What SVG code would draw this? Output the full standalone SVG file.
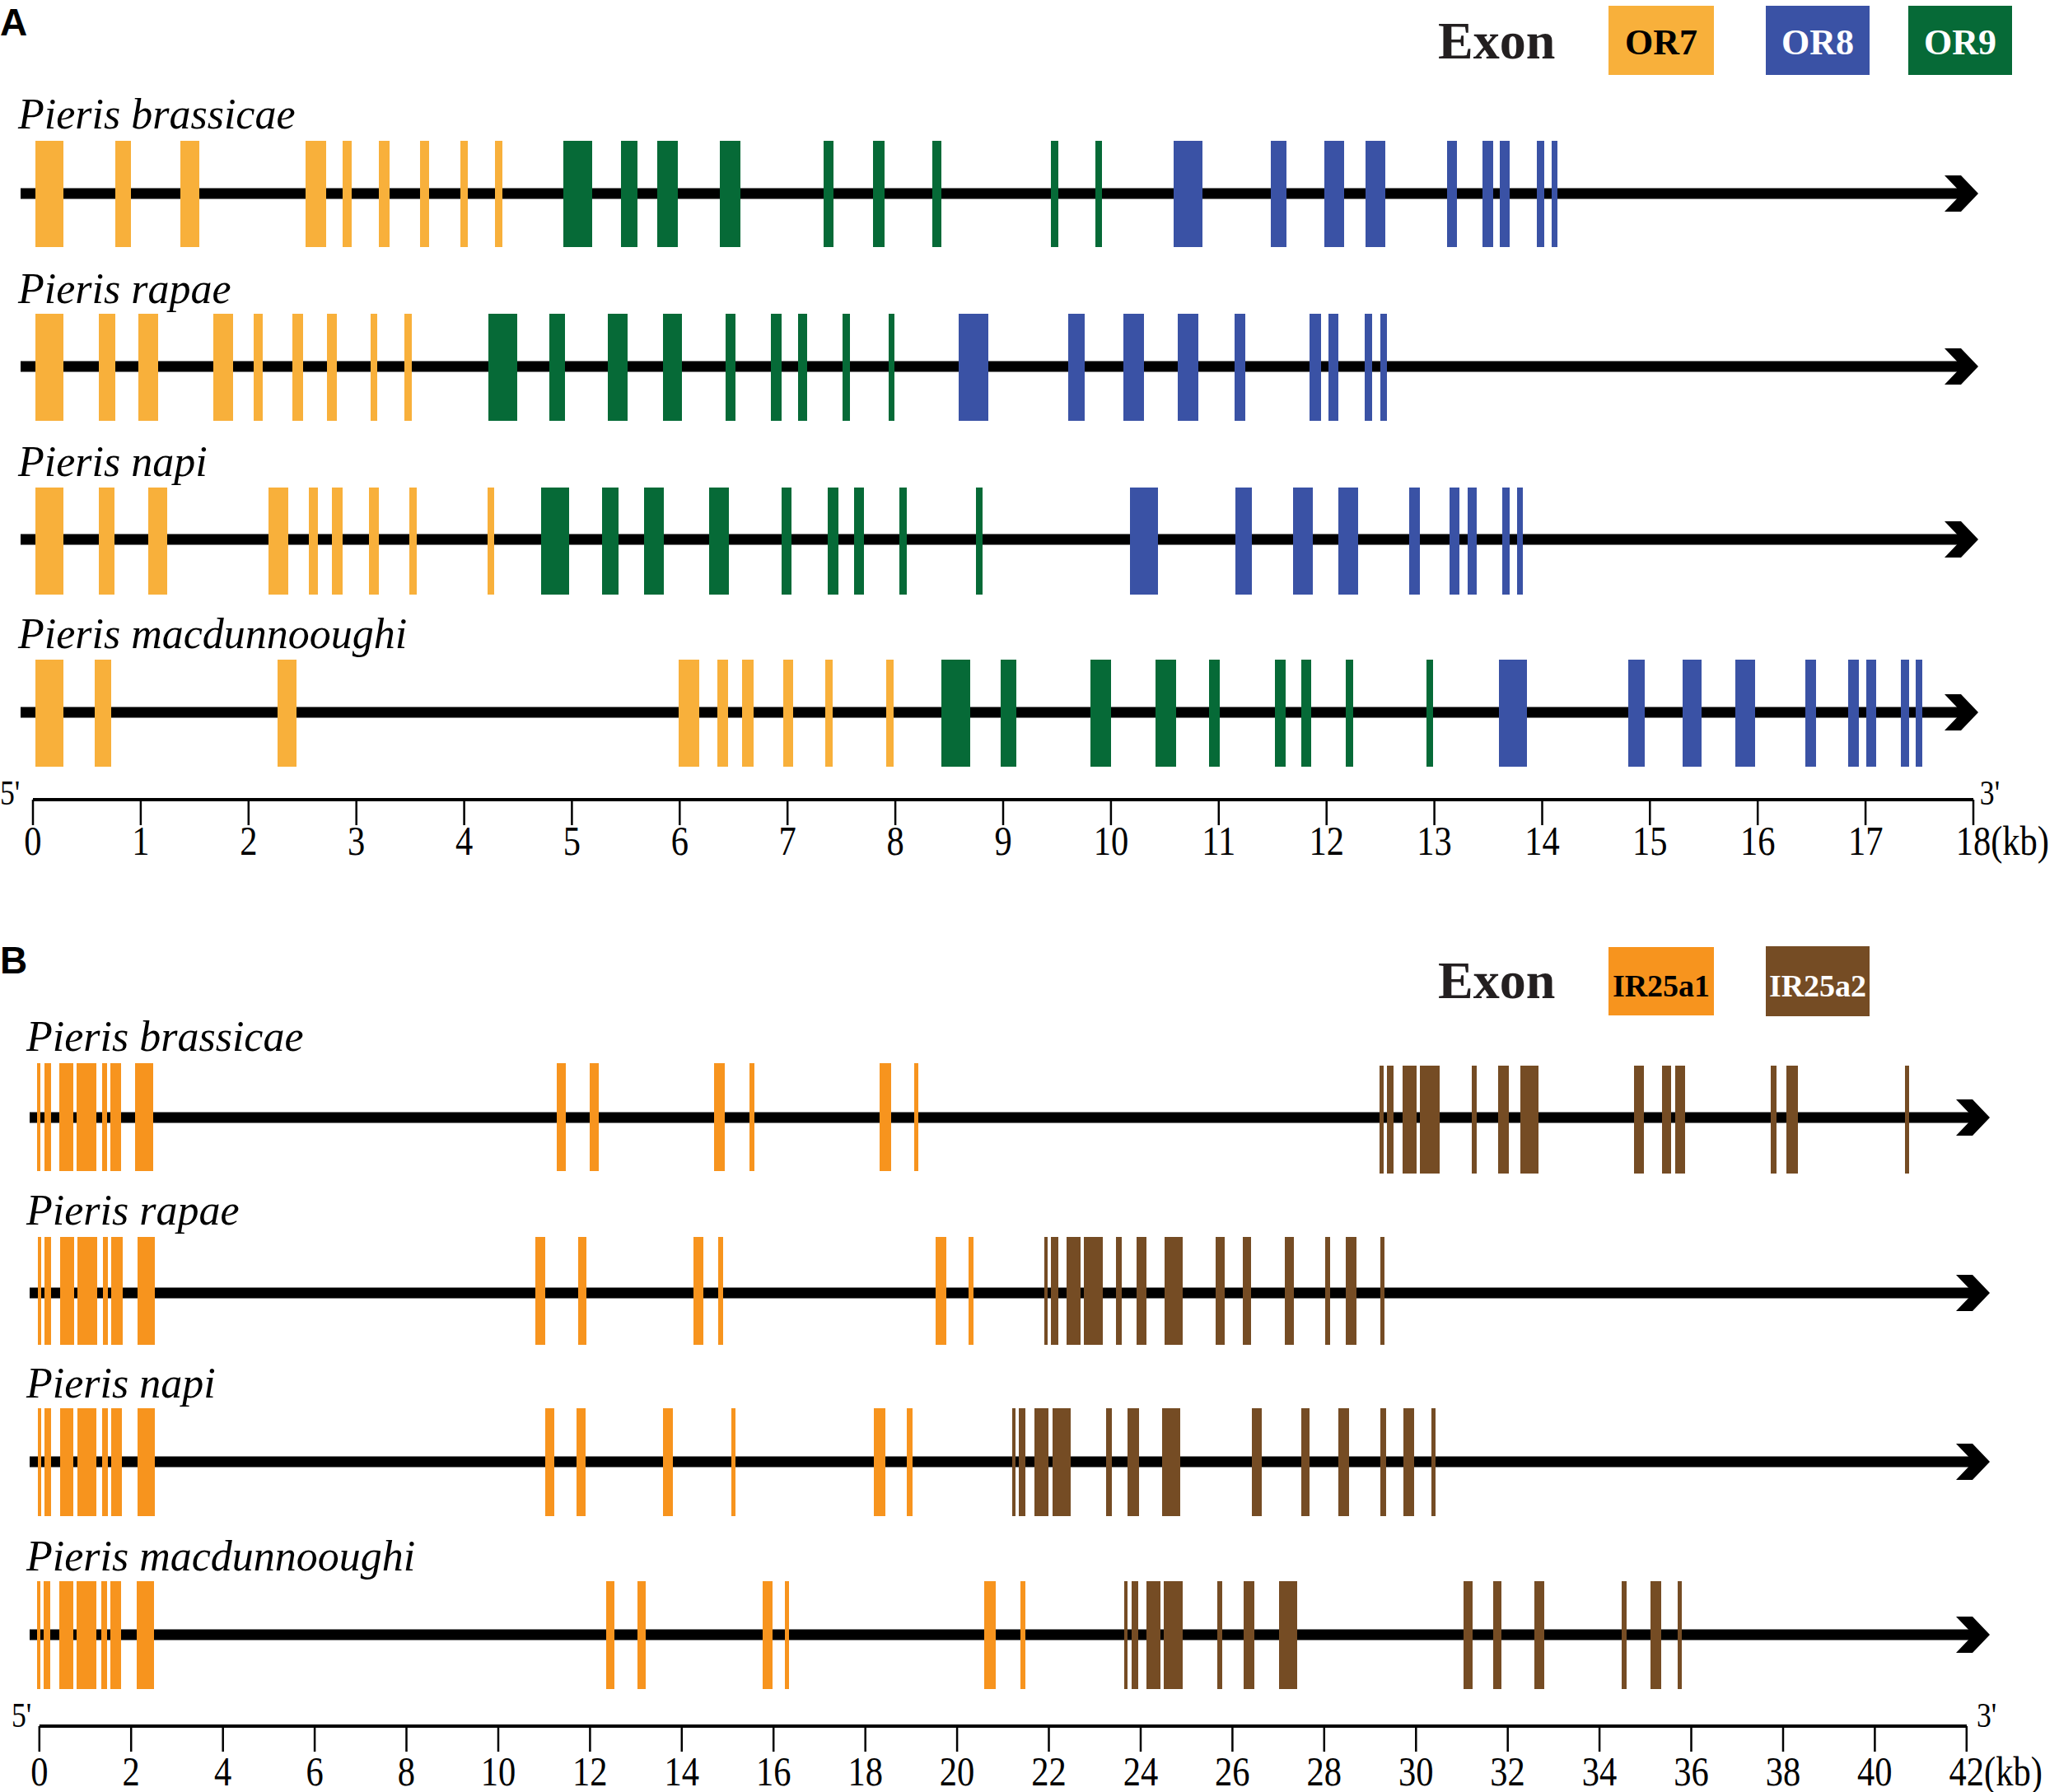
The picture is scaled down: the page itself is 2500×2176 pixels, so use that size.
<svg xmlns="http://www.w3.org/2000/svg" width="2500" height="2176" viewBox="0 0 2500 2176">
<defs>
<style>
.or7{fill:#F8B03B}.or8{fill:#3A52A5}.or9{fill:#066A37}.ir1{fill:#F7941E}.ir2{fill:#754C24}
.bb{stroke:#000;stroke-width:13;fill:none}
.ax{stroke:#000;stroke-width:4;fill:none}
.tk{stroke:#000;stroke-width:2.5;fill:none}
.sp{font-family:"Liberation Serif","Times New Roman",serif;font-style:italic;font-size:52px;fill:#000}
.num{font-family:"Liberation Serif","Times New Roman",serif;font-size:50px;fill:#000;text-anchor:middle}
.end{font-family:"Liberation Serif","Times New Roman",serif;font-size:50px;fill:#000}
.pr{font-family:"Liberation Serif","Times New Roman",serif;font-size:42px;fill:#000}
.pl{font-family:"Liberation Sans",Arial,sans-serif;font-weight:bold;font-size:46px;fill:#000}
.ex{font-family:"Liberation Serif","Times New Roman",serif;font-weight:bold;font-size:64px;fill:#231F20}
.lg{font-family:"Liberation Serif","Times New Roman",serif;font-weight:bold;font-size:44px;text-anchor:middle}
.lg2{font-family:"Liberation Serif","Times New Roman",serif;font-weight:bold;font-size:38px;text-anchor:middle}
</style>
<marker id="chev" markerUnits="userSpaceOnUse" viewBox="0 -22 41 44" markerWidth="41" markerHeight="44" refX="21" refY="0" orient="auto">
<path d="M0,-22 L20,-22 L41,0 L20,22 L0,22 L21,0 Z" fill="#000"/>
</marker>
</defs>
<rect width="2500" height="2176" fill="#fff"/>

<!-- Panel A header -->
<text class="pl" x="0" y="43">A</text>
<g id="legendA">
<text class="ex" x="1746" y="71">Exon</text>
<rect class="or7" x="1953" y="7" width="128" height="84"/>
<text class="lg" x="2017" y="66" fill="#000">OR7</text>
<rect class="or8" x="2144" y="7" width="126" height="84"/>
<text class="lg" x="2207" y="66" fill="#fff">OR8</text>
<rect class="or9" x="2317" y="7" width="126" height="84"/>
<text class="lg" x="2380" y="66" fill="#fff">OR9</text>
</g>

<!-- species labels -->
<g id="labels">
<text class="sp" x="22" y="156">Pieris brassicae</text>
<text class="sp" x="22" y="368">Pieris rapae</text>
<text class="sp" x="22" y="578">Pieris napi</text>
<text class="sp" x="22" y="787">Pieris macdunnooughi</text>
<text class="sp" x="32" y="1276">Pieris brassicae</text>
<text class="sp" x="32" y="1487">Pieris rapae</text>
<text class="sp" x="32" y="1697">Pieris napi</text>
<text class="sp" x="32" y="1907">Pieris macdunnooughi</text>
</g>

<!-- backbones (connectors) -->
<g id="connectors">
<line class="bb" x1="25" y1="235" x2="2382" y2="235" marker-end="url(#chev)"/>
<line class="bb" x1="25" y1="445" x2="2382" y2="445" marker-end="url(#chev)"/>
<line class="bb" x1="25" y1="655" x2="2382" y2="655" marker-end="url(#chev)"/>
<line class="bb" x1="25" y1="865" x2="2382" y2="865" marker-end="url(#chev)"/>
<line class="bb" x1="36" y1="1357" x2="2396" y2="1357" marker-end="url(#chev)"/>
<line class="bb" x1="36" y1="1570" x2="2396" y2="1570" marker-end="url(#chev)"/>
<line class="bb" x1="36" y1="1775" x2="2396" y2="1775" marker-end="url(#chev)"/>
<line class="bb" x1="36" y1="1985" x2="2396" y2="1985" marker-end="url(#chev)"/>
</g>

<!-- Panel A rows -->
<g id="A-brassicae" transform="translate(0,171)">
<g class="or7"><rect x="43" width="34" height="129"/><rect x="140" width="19" height="129"/><rect x="219" width="23" height="129"/><rect x="371" width="25" height="129"/><rect x="416" width="11" height="129"/><rect x="460" width="13" height="129"/><rect x="510" width="11" height="129"/><rect x="559" width="9" height="129"/><rect x="601" width="9" height="129"/></g>
<g class="or9"><rect x="684" width="35" height="129"/><rect x="754" width="20" height="129"/><rect x="798" width="25" height="129"/><rect x="874" width="25" height="129"/><rect x="1000" width="12" height="129"/><rect x="1060" width="14" height="129"/><rect x="1132" width="11" height="129"/><rect x="1276" width="9" height="129"/><rect x="1330" width="8" height="129"/></g>
<g class="or8"><rect x="1425" width="35" height="129"/><rect x="1543" width="19" height="129"/><rect x="1608" width="24" height="129"/><rect x="1658" width="24" height="129"/><rect x="1757" width="12" height="129"/><rect x="1800" width="13" height="129"/><rect x="1821" width="12" height="129"/><rect x="1866" width="9" height="129"/><rect x="1884" width="7" height="129"/></g>
</g>
<g id="A-rapae" transform="translate(0,381)">
<g class="or7"><rect x="43" width="34" height="130"/><rect x="120" width="20" height="130"/><rect x="168" width="24" height="130"/><rect x="259" width="24" height="130"/><rect x="308" width="11" height="130"/><rect x="355" width="13" height="130"/><rect x="397" width="12" height="130"/><rect x="450" width="8" height="130"/><rect x="491" width="9" height="130"/></g>
<g class="or9"><rect x="593" width="35" height="130"/><rect x="667" width="19" height="130"/><rect x="738" width="24" height="130"/><rect x="805" width="23" height="130"/><rect x="881" width="12" height="130"/><rect x="936" width="13" height="130"/><rect x="969" width="11" height="130"/><rect x="1023" width="9" height="130"/><rect x="1079" width="7" height="130"/></g>
<g class="or8"><rect x="1164" width="36" height="130"/><rect x="1297" width="20" height="130"/><rect x="1364" width="25" height="130"/><rect x="1430" width="25" height="130"/><rect x="1499" width="13" height="130"/><rect x="1590" width="14" height="130"/><rect x="1613" width="12" height="130"/><rect x="1657" width="9" height="130"/><rect x="1676" width="8" height="130"/></g>
</g>
<g id="A-napi" transform="translate(0,592)">
<g class="or7"><rect x="43" width="34" height="130"/><rect x="120" width="19" height="130"/><rect x="180" width="23" height="130"/><rect x="326" width="24" height="130"/><rect x="375" width="11" height="130"/><rect x="403" width="13" height="130"/><rect x="448" width="12" height="130"/><rect x="497" width="9" height="130"/><rect x="592" width="8" height="130"/></g>
<g class="or9"><rect x="657" width="34" height="130"/><rect x="731" width="20" height="130"/><rect x="782" width="24" height="130"/><rect x="861" width="24" height="130"/><rect x="949" width="12" height="130"/><rect x="1005" width="13" height="130"/><rect x="1037" width="12" height="130"/><rect x="1092" width="9" height="130"/><rect x="1185" width="8" height="130"/></g>
<g class="or8"><rect x="1372" width="34" height="130"/><rect x="1500" width="20" height="130"/><rect x="1570" width="24" height="130"/><rect x="1625" width="24" height="130"/><rect x="1711" width="13" height="130"/><rect x="1760" width="12" height="130"/><rect x="1782" width="11" height="130"/><rect x="1824" width="9" height="130"/><rect x="1842" width="7" height="130"/></g>
</g>
<g id="A-macdunnooughi" transform="translate(0,801)">
<g class="or7"><rect x="43" width="34" height="130"/><rect x="115" width="20" height="130"/><rect x="337" width="23" height="130"/><rect x="824" width="25" height="130"/><rect x="871" width="13" height="130"/><rect x="901" width="14" height="130"/><rect x="951" width="12" height="130"/><rect x="1002" width="9" height="130"/><rect x="1076" width="9" height="130"/></g>
<g class="or9"><rect x="1143" width="35" height="130"/><rect x="1215" width="19" height="130"/><rect x="1324" width="25" height="130"/><rect x="1403" width="25" height="130"/><rect x="1468" width="13" height="130"/><rect x="1548" width="13" height="130"/><rect x="1580" width="12" height="130"/><rect x="1634" width="9" height="130"/><rect x="1732" width="8" height="130"/></g>
<g class="or8"><rect x="1820" width="34" height="130"/><rect x="1977" width="20" height="130"/><rect x="2043" width="23" height="130"/><rect x="2107" width="24" height="130"/><rect x="2192" width="13" height="130"/><rect x="2244" width="13" height="130"/><rect x="2266" width="12" height="130"/><rect x="2308" width="10" height="130"/><rect x="2326" width="8" height="130"/></g>
</g>

<!-- Axis A -->
<g id="axisA">
<line class="ax" x1="40" y1="971" x2="2396" y2="971"/>
<path class="tk" d="M40 971V1002M170.9 971V1002M301.8 971V1002M432.7 971V1002M563.6 971V1002M694.4 971V1002M825.3 971V1002M956.2 971V1002M1087.1 971V1002M1218 971V1002M1348.9 971V1002M1479.8 971V1002M1610.7 971V1002M1741.6 971V1002M1872.5 971V1002M2003.3 971V1002M2134.2 971V1002M2265.1 971V1002M2396 971V1002"/>
<g transform="scale(0.85,1)">
<text class="pr" x="0" y="977">5'</text>
<text class="pr" x="2828" y="977">3'</text>
<text class="num" x="47.06" y="1038">0</text><text class="num" x="201.05" y="1038">1</text><text class="num" x="355.04" y="1038">2</text><text class="num" x="509.03" y="1038">3</text><text class="num" x="663.02" y="1038">4</text><text class="num" x="817.01" y="1038">5</text><text class="num" x="971" y="1038">6</text><text class="num" x="1124.99" y="1038">7</text><text class="num" x="1278.98" y="1038">8</text><text class="num" x="1432.97" y="1038">9</text><text class="num" x="1586.96" y="1038">10</text><text class="num" x="1740.95" y="1038">11</text><text class="num" x="1894.94" y="1038">12</text><text class="num" x="2048.93" y="1038">13</text><text class="num" x="2202.92" y="1038">14</text><text class="num" x="2356.91" y="1038">15</text><text class="num" x="2510.9" y="1038">16</text><text class="num" x="2664.89" y="1038">17</text>
<text class="end" x="2793.8" y="1038">18(kb)</text>
</g>
</g>

<!-- Panel B header -->
<text class="pl" x="0" y="1182">B</text>
<g id="legendB">
<text class="ex" x="1746" y="1212">Exon</text>
<rect class="ir1" x="1953" y="1150" width="128" height="83"/>
<text class="lg2" x="2017" y="1210" fill="#000">IR25a1</text>
<rect class="ir2" x="2144" y="1149" width="126" height="85"/>
<text class="lg2" x="2207" y="1210" fill="#fff">IR25a2</text>
</g>

<!-- Panel B rows -->
<g id="B-brassicae" transform="translate(0,1291)">
<g class="ir1"><rect x="45" width="4" height="131"/><rect x="54" width="8" height="131"/><rect x="72" width="17" height="131"/><rect x="93" width="24" height="131"/><rect x="124" width="6" height="131"/><rect x="134" width="13" height="131"/><rect x="164" width="22" height="131"/><rect x="676" width="11" height="131"/><rect x="716" width="11" height="131"/><rect x="867" width="13" height="131"/><rect x="910" width="6" height="131"/><rect x="1068" width="14" height="131"/><rect x="1110" width="5" height="131"/></g>
<g class="ir2" transform="translate(0,3)"><rect x="1675" width="5" height="131"/><rect x="1684" width="8" height="131"/><rect x="1703" width="17" height="131"/><rect x="1724" width="24" height="131"/><rect x="1787" width="6" height="131"/><rect x="1819" width="13" height="131"/><rect x="1846" width="22" height="131"/><rect x="1984" width="12" height="131"/><rect x="2018" width="11" height="131"/><rect x="2034" width="12" height="131"/><rect x="2150" width="7" height="131"/><rect x="2169" width="14" height="131"/><rect x="2313" width="5" height="131"/></g>
</g>
<g id="B-rapae" transform="translate(0,1502)">
<g class="ir1"><rect x="46" width="4" height="131"/><rect x="54" width="8" height="131"/><rect x="73" width="17" height="131"/><rect x="94" width="24" height="131"/><rect x="125" width="6" height="131"/><rect x="135" width="14" height="131"/><rect x="167" width="21" height="131"/><rect x="650" width="12" height="131"/><rect x="702" width="10" height="131"/><rect x="842" width="12" height="131"/><rect x="872" width="6" height="131"/><rect x="1136" width="13" height="131"/><rect x="1176" width="6" height="131"/></g>
<g class="ir2"><rect x="1268" width="4" height="131"/><rect x="1276" width="9" height="131"/><rect x="1295" width="17" height="131"/><rect x="1316" width="23" height="131"/><rect x="1355" width="7" height="131"/><rect x="1380" width="12" height="131"/><rect x="1414" width="22" height="131"/><rect x="1476" width="11" height="131"/><rect x="1509" width="10" height="131"/><rect x="1560" width="11" height="131"/><rect x="1609" width="6" height="131"/><rect x="1634" width="13" height="131"/><rect x="1676" width="5" height="131"/></g>
</g>
<g id="B-napi" transform="translate(0,1710)">
<g class="ir1"><rect x="46" width="4" height="131"/><rect x="54" width="8" height="131"/><rect x="73" width="16" height="131"/><rect x="94" width="23" height="131"/><rect x="124" width="7" height="131"/><rect x="135" width="13" height="131"/><rect x="167" width="21" height="131"/><rect x="662" width="11" height="131"/><rect x="700" width="11" height="131"/><rect x="805" width="12" height="131"/><rect x="888" width="5" height="131"/><rect x="1061" width="14" height="131"/><rect x="1101" width="7" height="131"/></g>
<g class="ir2"><rect x="1229" width="4" height="131"/><rect x="1237" width="8" height="131"/><rect x="1256" width="17" height="131"/><rect x="1278" width="22" height="131"/><rect x="1343" width="7" height="131"/><rect x="1369" width="14" height="131"/><rect x="1411" width="22" height="131"/><rect x="1520" width="12" height="131"/><rect x="1580" width="10" height="131"/><rect x="1625" width="13" height="131"/><rect x="1676" width="7" height="131"/><rect x="1704" width="13" height="131"/><rect x="1738" width="5" height="131"/></g>
</g>
<g id="B-macdunnooughi" transform="translate(0,1920)">
<g class="ir1"><rect x="45" width="4" height="131"/><rect x="53" width="8" height="131"/><rect x="72" width="17" height="131"/><rect x="93" width="24" height="131"/><rect x="123" width="7" height="131"/><rect x="134" width="13" height="131"/><rect x="166" width="21" height="131"/><rect x="736" width="10" height="131"/><rect x="774" width="10" height="131"/><rect x="926" width="12" height="131"/><rect x="953" width="5" height="131"/><rect x="1195" width="14" height="131"/><rect x="1239" width="6" height="131"/></g>
<g class="ir2"><rect x="1365" width="4" height="131"/><rect x="1374" width="8" height="131"/><rect x="1392" width="17" height="131"/><rect x="1413" width="23" height="131"/><rect x="1478" width="6" height="131"/><rect x="1510" width="13" height="131"/><rect x="1553" width="22" height="131"/><rect x="1777" width="11" height="131"/><rect x="1813" width="10" height="131"/><rect x="1863" width="12" height="131"/><rect x="1969" width="6" height="131"/><rect x="2004" width="13" height="131"/><rect x="2037" width="5" height="131"/></g>
</g>

<!-- Axis B -->
<g id="axisB">
<line class="ax" x1="47.8" y1="2096" x2="2388" y2="2096"/>
<path class="tk" d="M47.8 2096V2127M159.2 2096V2127M270.7 2096V2127M382.1 2096V2127M493.5 2096V2127M605 2096V2127M716.4 2096V2127M827.8 2096V2127M939.2 2096V2127M1050.7 2096V2127M1162.1 2096V2127M1273.5 2096V2127M1385 2096V2127M1496.4 2096V2127M1607.8 2096V2127M1719.3 2096V2127M1830.7 2096V2127M1942.1 2096V2127M2053.5 2096V2127M2165 2096V2127M2276.4 2096V2127M2387.8 2096V2127"/>
<g transform="scale(0.85,1)">
<text class="pr" x="16.5" y="2097">5'</text>
<text class="pr" x="2823.5" y="2097">3'</text>
<text class="num" x="56.24" y="2168">0</text><text class="num" x="187.33" y="2168">2</text><text class="num" x="318.42" y="2168">4</text><text class="num" x="449.51" y="2168">6</text><text class="num" x="580.6" y="2168">8</text><text class="num" x="711.69" y="2168">10</text><text class="num" x="842.78" y="2168">12</text><text class="num" x="973.87" y="2168">14</text><text class="num" x="1104.96" y="2168">16</text><text class="num" x="1236.05" y="2168">18</text><text class="num" x="1367.14" y="2168">20</text><text class="num" x="1498.23" y="2168">22</text><text class="num" x="1629.32" y="2168">24</text><text class="num" x="1760.41" y="2168">26</text><text class="num" x="1891.5" y="2168">28</text><text class="num" x="2022.59" y="2168">30</text><text class="num" x="2153.68" y="2168">32</text><text class="num" x="2284.77" y="2168">34</text><text class="num" x="2415.86" y="2168">36</text><text class="num" x="2546.95" y="2168">38</text><text class="num" x="2678.04" y="2168">40</text>
<text class="end" x="2784.2" y="2168">42(kb)</text>
</g>
</g>
</svg>
